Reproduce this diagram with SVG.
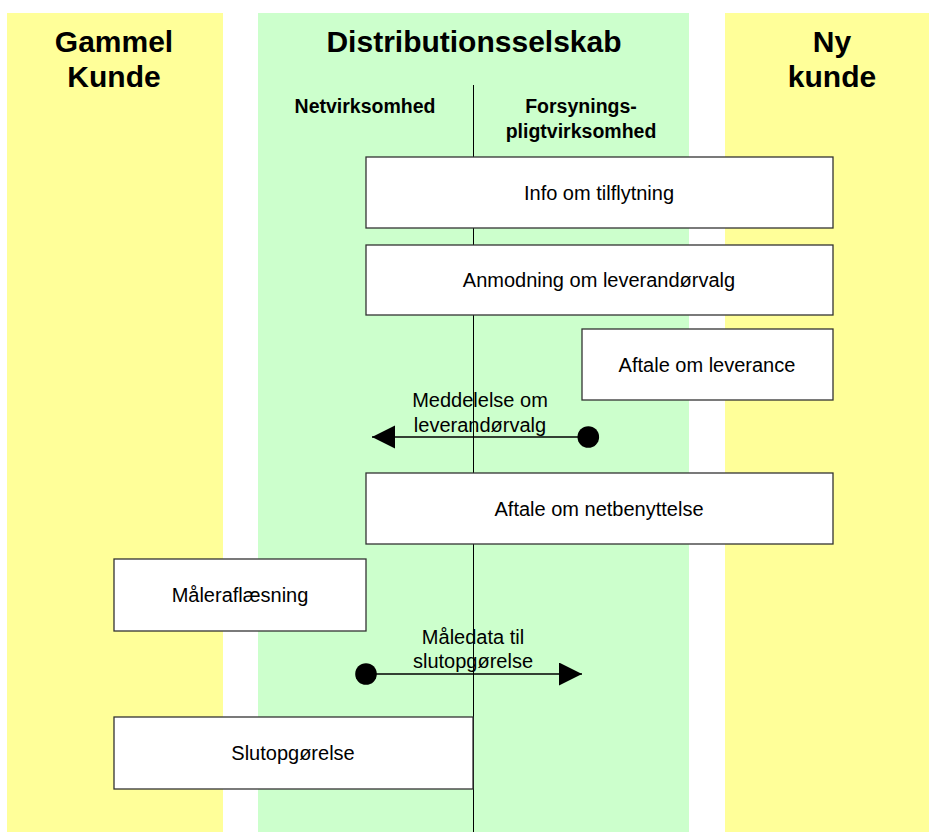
<svg xmlns="http://www.w3.org/2000/svg" width="929" height="832" viewBox="0 0 929 832">
<style>
text{font-family:"Liberation Sans",Arial,sans-serif;fill:#000}
.h{font-size:30px;font-weight:bold;text-anchor:middle}
.s{font-size:19.5px;font-weight:bold;text-anchor:middle}
.t{font-size:20px;text-anchor:middle}
.box{fill:#fff;stroke:#333;stroke-width:1.3}
.ln{stroke:#000;stroke-width:1.5;fill:none}
</style>
<defs>
<marker id="ah" markerWidth="24" markerHeight="24" refX="23" refY="11.5" orient="auto" markerUnits="userSpaceOnUse">
<path d="M0,0 L23,11.5 L0,23 Z" fill="#000"/>
</marker>
</defs>
<rect width="929" height="832" fill="#fff"/>
<g id="lanes">
<rect x="7" y="13" width="216" height="819" fill="#FFFF99"/>
<rect x="258" y="13" width="431" height="819" fill="#CCFFCC"/>
<rect x="725" y="13" width="204" height="819" fill="#FFFF99"/>
<text class="h" x="114" y="52">Gammel</text>
<text class="h" x="114" y="87">Kunde</text>
<text class="h" x="474" y="52">Distributionsselskab</text>
<text class="h" x="832" y="52">Ny</text>
<text class="h" x="832" y="87">kunde</text>
<text class="s" x="365" y="113">Netvirksomhed</text>
<text class="s" x="581" y="113">Forsynings-</text>
<text class="s" x="581" y="137.5">pligtvirksomhed</text>
<line x1="473.5" y1="85" x2="473.5" y2="832" stroke="#000" stroke-width="1"/>
</g>
<g id="n1"><rect class="box" x="366" y="157" width="467" height="71"/><text class="t" x="599" y="199.5">Info om tilflytning</text></g>
<g id="n2"><rect class="box" x="366" y="245" width="467" height="70"/><text class="t" x="599" y="287">Anmodning om leverandørvalg</text></g>
<g id="n3"><rect class="box" x="582" y="329" width="251" height="71"/><text class="t" x="707" y="371.5">Aftale om leverance</text></g>
<g id="n4"><rect class="box" x="366" y="473" width="467" height="71"/><text class="t" x="599" y="515.5">Aftale om netbenyttelse</text></g>
<g id="n5"><rect class="box" x="114" y="559" width="252" height="72"/><text class="t" x="240" y="602">Måleraflæsning</text></g>
<g id="n6"><rect class="box" x="114" y="717" width="359" height="72"/><text class="t" x="293" y="760">Slutopgørelse</text></g>
<g id="connectors">
<line class="ln" x1="588" y1="437" x2="372" y2="437" marker-end="url(#ah)"/>
<circle cx="588.3" cy="437" r="10.8" fill="#000"/>
<text class="t" x="480" y="407">Meddelelse om</text>
<text class="t" x="480" y="431.5">leverandørvalg</text>
<line class="ln" x1="366" y1="674" x2="582" y2="674" marker-end="url(#ah)"/>
<circle cx="366" cy="674" r="10.8" fill="#000"/>
<text class="t" x="473" y="644">Måledata til</text>
<text class="t" x="473" y="668">slutopgørelse</text>
</g>
</svg>
